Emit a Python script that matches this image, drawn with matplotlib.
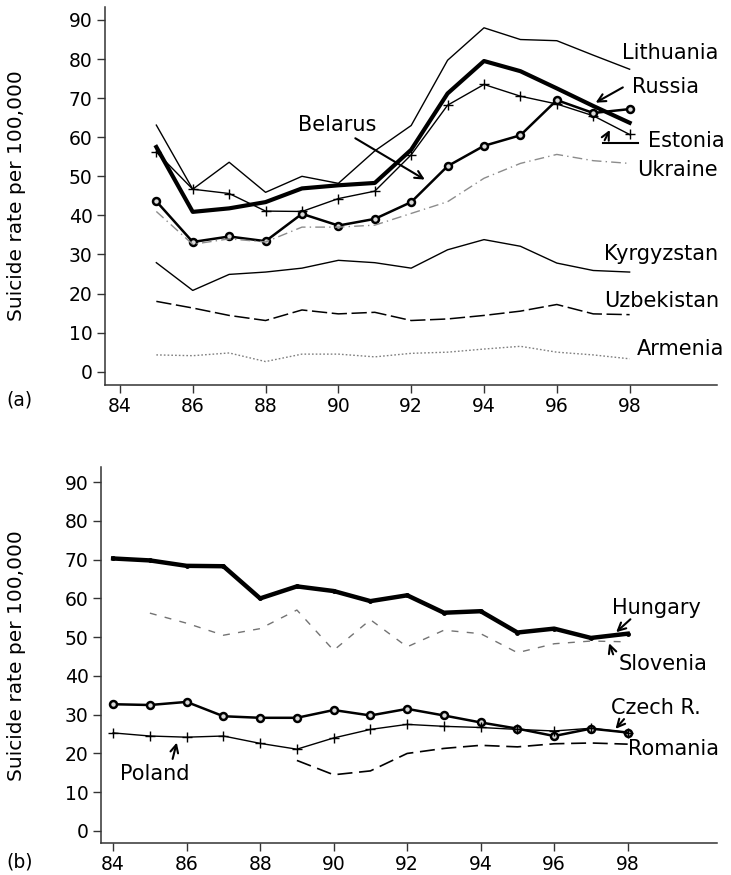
import numpy as np
from matplotlib import pyplot as plt

# ---- data (a) former USSR ----
years_a = np.arange(85, 99)
lithuania = [63.1, 46.7, 53.6, 45.9, 50.0, 48.2, 56.5, 63.0, 79.7, 88.0, 85.0, 84.7, 81.0, 77.4]
russia = [57.5, 40.9, 41.8, 43.4, 46.9, 47.7, 48.3, 56.8, 71.2, 79.5, 76.9, 72.5, 68.0, 63.7]
estonia = [56.2, 46.7, 45.6, 41.1, 41.0, 44.3, 46.2, 55.5, 68.2, 73.5, 70.5, 68.5, 65.5, 60.7]
belarus = [43.6, 33.2, 34.6, 33.4, 40.4, 37.4, 39.1, 43.4, 52.6, 57.8, 60.5, 69.5, 66.2, 67.2]
ukraine = [41.0, 32.6, 34.0, 33.2, 37.0, 37.0, 37.5, 40.5, 43.5, 49.5, 53.3, 55.6, 54.0, 53.3]
kyrgyzstan = [27.9, 20.8, 24.9, 25.5, 26.5, 28.5, 27.9, 26.5, 31.2, 33.8, 32.1, 27.8, 25.9, 25.5]
uzbekistan = [18.0, 16.3, 14.4, 13.1, 15.8, 14.8, 15.2, 13.1, 13.5, 14.4, 15.5, 17.2, 14.8, 14.6]
armenia = [4.3, 4.1, 4.8, 2.6, 4.5, 4.5, 3.8, 4.7, 5.0, 5.8, 6.5, 5.0, 4.3, 3.3]

# ---- data (b) central Europe ----
years_b = np.arange(84, 99)
hungary = [70.3, 69.8, 68.4, 68.3, 60.0, 63.1, 61.9, 59.3, 60.8, 56.3, 56.7, 51.2, 52.2, 49.8, 50.9]
years_slo = np.arange(85, 99)
slovenia = [56.2, 53.6, 50.5, 52.2, 57.0, 46.6, 54.5, 47.5, 51.8, 50.9, 46.0, 48.3, 49.0, 48.8]
czech = [32.7, 32.5, 33.3, 29.6, 29.2, 29.2, 31.2, 29.8, 31.5, 29.8, 28.0, 26.4, 24.5, 26.4, 25.4]
poland = [25.3, 24.5, 24.2, 24.5, 22.6, 21.1, 24.0, 26.2, 27.5, 27.0, 26.7, 26.2, 25.8, 26.5, 25.4]
years_rom = np.arange(89, 99)
romania = [18.2, 14.5, 15.5, 20.0, 21.3, 22.1, 21.7, 22.5, 22.7, 22.4]

yticks = list(range(0, 100, 10))
xticks = list(range(84, 100, 2))
xlabels = [str(x) for x in xticks]

plt.rcParams['font.family'] = ['DejaVu Sans']

fig = plt.figure(figsize=(7.31, 8.75), dpi=100)
W, H = 731., 875.

def make_axes(left, right, top, bottom, xlim, ylim):
    ax = fig.add_axes([left / W, 1 - bottom / H, (right - left) / W, (bottom - top) / H])
    ax.set_xlim(*xlim)
    ax.set_ylim(*ylim)
    for s in ['top', 'right']:
        ax.spines[s].set_visible(False)
    for s in ['left', 'bottom']:
        ax.spines[s].set_linewidth(1.1)
        ax.spines[s].set_color('0.2')
    ax.set_yticks(yticks)
    ax.set_xticks(xticks)
    ax.set_xticklabels(xlabels)
    ax.tick_params(direction='out', length=6, width=1, color='0.2', labelsize=13.5, pad=3)
    return ax

# ---------- panel (a) ----------
ax1 = make_axes(105, 717, 6.7, 385, (83.59, 100.4), (-3.4, 93.4))
ax1.plot(years_a, lithuania, color='black', lw=1.0)
ax1.plot(years_a, russia, color='black', lw=3.0)
ax1.plot(years_a, estonia, color='black', lw=1.0, marker='+', ms=7, mew=1.0)
ax1.plot(years_a, belarus, color='black', lw=1.8, marker='o', ms=5, mfc='0.85', mec='black', mew=1.8)
ax1.plot(years_a, ukraine, color='0.55', lw=1.0, dashes=(7, 3, 1, 3))
ax1.plot(years_a, kyrgyzstan, color='black', lw=1.0)
ax1.plot(years_a, uzbekistan, color='black', lw=1.1, dashes=(10, 3))
ax1.plot(years_a, armenia, color='0.5', lw=1.0, dashes=(1.2, 1.5))

lab = dict(fontsize=15, va='baseline', ha='left')
ax1.text(97.80, 79.9, 'Lithuania', **lab)
ax1.text(98.07, 71.2, 'Russia', **lab)
ax1.text(98.51, 57.6, 'Estonia', **lab)
ax1.text(98.21, 50.1, 'Ukraine', **lab)
ax1.text(97.30, 28.6, 'Kyrgyzstan', **lab)
ax1.text(97.30, 16.5, 'Uzbekistan', **lab)
ax1.text(98.21, 4.3, 'Armenia', **lab)
ax1.text(88.89, 61.6, 'Belarus', **lab)

arr = dict(arrowstyle='->', color='black', lw=1.5, mutation_scale=14)
ax1.annotate('', xy=(92.44, 48.8), xytext=(90.4, 60.1), arrowprops=arr)
ax1.annotate('', xy=(97.0, 68.5), xytext=(97.88, 73.1), arrowprops=arr)
ax1.annotate('', xy=(97.49, 62.5), xytext=(97.28, 58.6), arrowprops=arr)
ax1.plot([97.28, 98.24], [58.6, 58.6], color='black', lw=1.5)

fig.text(6 / W, 1 - 400 / H, '(a)', fontsize=13.5, ha='left', va='center')
fig.text(17 / W, 1 - 196 / H, 'Suicide rate per 100,000', fontsize=14.5,
         rotation=90, ha='center', va='center')

# ---------- panel (b) ----------
ax2 = make_axes(101, 717, 467, 843, (83.67, 100.43), (-3.1, 93.9))
ax2.plot(years_b, hungary, color='black', lw=3.2, marker='o', ms=2.5)
ax2.plot(years_slo, slovenia, color='0.45', lw=1.0, dashes=(5, 6))
ax2.plot(years_b, czech, color='black', lw=1.8, marker='o', ms=5, mfc='0.85', mec='black', mew=1.8)
ax2.plot(years_b, poland, color='black', lw=1.0, marker='+', ms=7, mew=1.0)
ax2.plot(years_rom, romania, color='black', lw=1.2, dashes=(9, 4))

ax2.text(97.57, 56.0, 'Hungary', **lab)
ax2.text(97.76, 41.5, 'Slovenia', **lab)
ax2.text(97.54, 30.1, 'Czech R.', **lab)
ax2.text(98.00, 19.6, 'Romania', **lab)
ax2.text(84.2, 13.1, 'Poland', **lab)

ax2.annotate('', xy=(97.63, 50.8), xytext=(98.13, 55.1), arrowprops=arr)
ax2.annotate('', xy=(97.47, 49.1), xytext=(97.63, 44.9), arrowprops=arr)
ax2.annotate('', xy=(97.62, 25.8), xytext=(97.95, 29.4), arrowprops=arr)
ax2.annotate('', xy=(85.75, 23.5), xytext=(85.6, 17.9), arrowprops=arr)

fig.text(6 / W, 1 - 862 / H, '(b)', fontsize=13.5, ha='left', va='center')
fig.text(17 / W, 1 - 656 / H, 'Suicide rate per 100,000', fontsize=14.5,
         rotation=90, ha='center', va='center')

fig.savefig('out.png', dpi=100)
